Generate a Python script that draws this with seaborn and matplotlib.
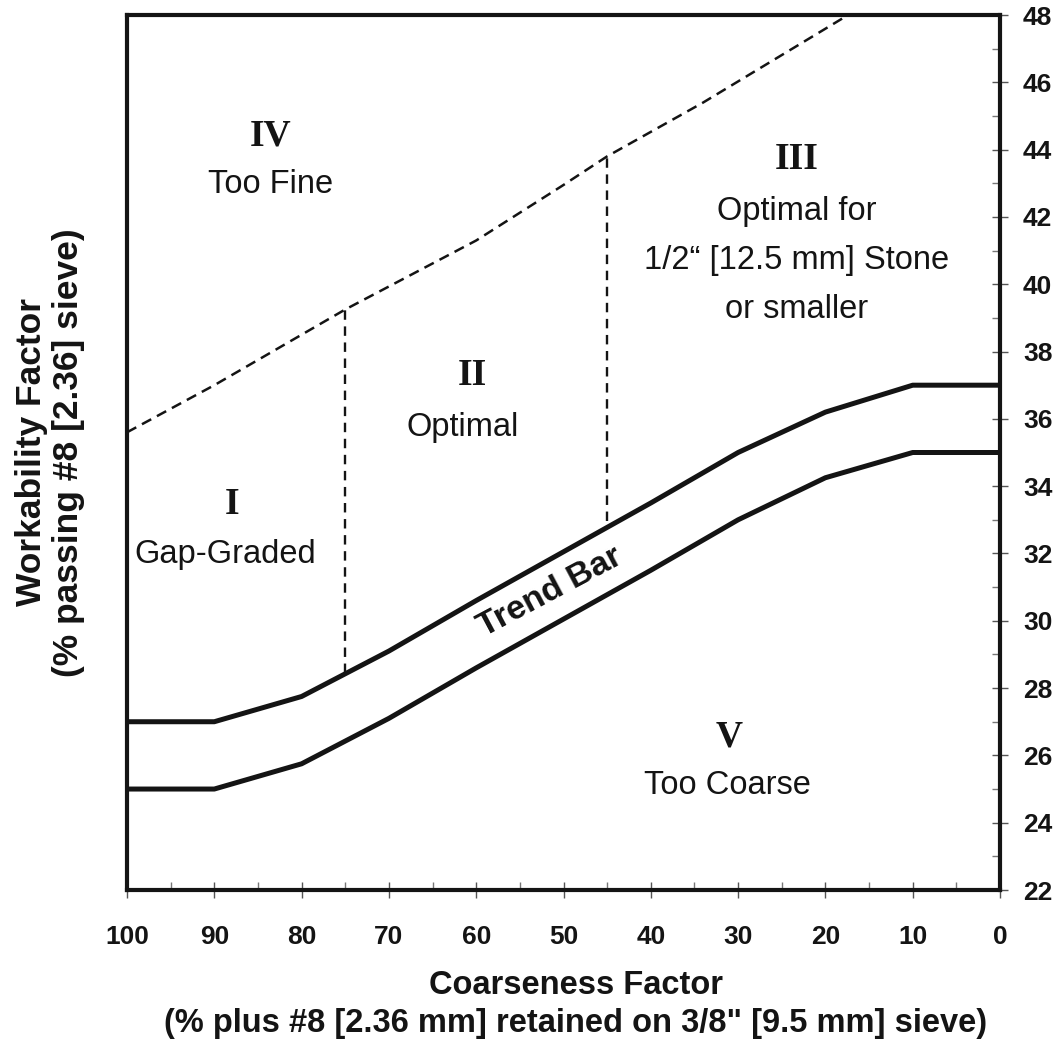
import matplotlib
matplotlib.use("Agg")
import matplotlib.pyplot as plt
import seaborn as sns
import pandas as pd
from matplotlib.ticker import MultipleLocator

# ---- data ----
cf_trend = [100, 90, 80, 70, 60, 50, 40, 30, 20, 10, 0]
wf_trend_upper = [27.0, 27.0, 27.75, 29.1, 30.6, 32.05, 33.5, 35.0, 36.2, 37.0, 37.0]
wf_trend_lower = [25.0, 25.0, 25.75, 27.1, 28.6, 30.05, 31.5, 33.0, 34.25, 35.0, 35.0]

cf_fine = [100, 90, 75, 60, 50, 45, 34, 17.4]
wf_fine = [35.6, 37.0, 39.25, 41.3, 42.95, 43.8, 45.4, 48.0]

cf_div = [75, 45]
wf_div_bottom = [28.45, 32.95]
wf_div_top = [39.25, 43.8]

zone_numerals = ["IV", "II", "I", "III", "V"]
zone_numeral_cf = [83.6, 60.4, 88.0, 23.3, 31.0]
zone_numeral_wf = [44.4, 37.3, 33.45, 43.7, 26.55]

zone_texts = ["Too Fine", "Optimal", "Gap-Graded", "Optimal for",
              "1/2\u201c [12.5 mm] Stone", "or smaller", "Too Coarse"]
zone_text_cf = [83.6, 61.5, 88.8, 23.3, 23.3, 23.3, 31.2]
zone_text_wf = [42.95, 35.75, 31.98, 42.15, 40.7, 39.25, 25.1]

x_ticks = [100, 90, 80, 70, 60, 50, 40, 30, 20, 10, 0]
y_ticks = list(range(22, 49, 2))

# ---- styling ----
sns.set_theme(style="white")
plt.rcParams["font.family"] = ["Liberation Sans", "DejaVu Sans"]

fig = plt.figure(figsize=(10.59, 10.46), dpi=100)
ax = fig.add_axes([127 / 1059, 1 - 890 / 1046, 873 / 1059, 875 / 1046])

ink = "#141414"

trend = pd.DataFrame({"cf": cf_trend + cf_trend,
                      "wf": wf_trend_upper + wf_trend_lower,
                      "edge": ["upper"] * len(cf_trend) + ["lower"] * len(cf_trend)})
sns.lineplot(data=trend, x="cf", y="wf", units="edge", estimator=None,
             color=ink, linewidth=3.6, sort=False, ax=ax, legend=False)

fine = pd.DataFrame({"cf": cf_fine, "wf": wf_fine})
sns.lineplot(data=fine, x="cf", y="wf", estimator=None, color=ink, linewidth=1.8,
             sort=False, ax=ax, legend=False)
ax.lines[-1].set_dashes((4.2, 2.6))

for c, b, t in zip(cf_div, wf_div_bottom, wf_div_top):
    div = pd.DataFrame({"cf": [c, c], "wf": [b, t]})
    sns.lineplot(data=div, x="cf", y="wf", estimator=None, color=ink,
                 linewidth=1.7, sort=False, ax=ax, legend=False)
    ax.lines[-1].set_dashes((4.0, 2.8))

for s, x, y in zip(zone_numerals, zone_numeral_cf, zone_numeral_wf):
    ax.text(x, y, s, ha="center", va="center", fontsize=27, fontweight="bold",
            family=["Liberation Serif", "DejaVu Serif"], color=ink)

for s, x, y in zip(zone_texts, zone_text_cf, zone_text_wf):
    ax.text(x, y, s, ha="center", va="center", fontsize=23.5, color=ink)

ax.text(51.5, 30.85, "Trend Bar", ha="center", va="center", fontsize=24.5,
        fontweight="bold", rotation=28, rotation_mode="anchor", color=ink)

# ---- axes ----
ax.set_xlim(100, 0)
ax.set_ylim(22, 48)
ax.set_xticks(x_ticks)
ax.set_xticklabels([str(v) for v in x_ticks])
ax.set_yticks(y_ticks)
ax.set_yticklabels([str(v) for v in y_ticks])
ax.xaxis.set_minor_locator(MultipleLocator(5))
ax.yaxis.set_minor_locator(MultipleLocator(1))

ax.yaxis.tick_right()
ax.yaxis.set_label_position("left")

for sp in ax.spines.values():
    sp.set_visible(True)
    sp.set_linewidth(3.0)
    sp.set_color(ink)

ax.tick_params(axis="both", which="major", direction="inout", length=11,
               width=1.0, color="#555555", labelsize=19, labelcolor=ink)
ax.tick_params(axis="both", which="minor", direction="in", length=6,
               width=1.0, color="#777777")
ax.tick_params(axis="x", which="major", pad=20, bottom=True)
ax.tick_params(axis="y", which="major", pad=11, right=True, left=False)
ax.tick_params(axis="y", which="minor", right=True, left=False)
ax.tick_params(axis="x", which="minor", bottom=True)
for lab in ax.get_xticklabels() + ax.get_yticklabels():
    lab.set_fontweight("bold")

ax.set_xlabel("Coarseness Factor\n(% plus #8 [2.36 mm] retained on 3/8\" [9.5 mm] sieve)",
              fontsize=23.5, fontweight="bold", color=ink, linespacing=1.3)
ax.xaxis.set_label_coords(0.514, -0.091)
ax.set_ylabel("Workability Factor\n(% passing #8 [2.36] sieve)",
              fontsize=25.5, fontweight="bold", color=ink, linespacing=1.15)
ax.yaxis.set_label_coords(-0.048, 0.5)

ax.grid(False)
ax.set_facecolor("white")
fig.patch.set_facecolor("white")

fig.savefig("out.png", dpi=100)
